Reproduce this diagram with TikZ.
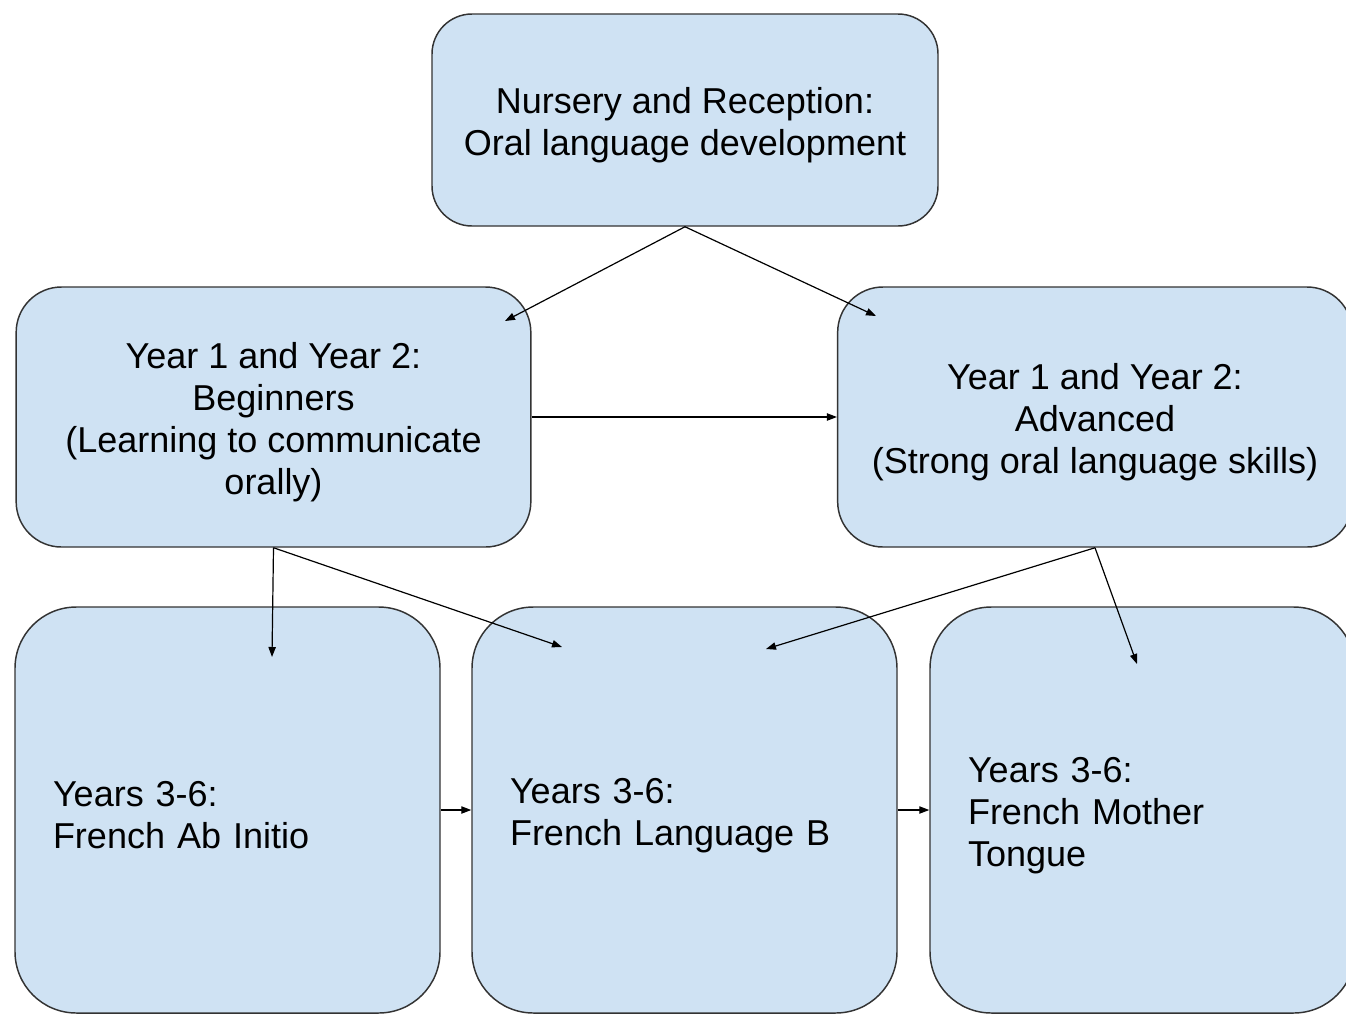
\documentclass[tikz,border=0pt]{standalone}
\usepackage{fontspec}
\setmainfont{Liberation Sans}
\usetikzlibrary{arrows.meta}

\definecolor{stageblue}{HTML}{CFE2F3}
\definecolor{stageline}{HTML}{333333}

% lifts the first line a little, as in the drawing
\newcommand{\stagestrut}{\rule{0pt}{1em}}

\tikzset{every picture/.style={line width=0.75pt}}
\tikzset{
	stage/.style={draw=stageline, fill=stageblue, line width=1.1pt, inner sep=0pt,
		font=\fontsize{27pt}{31.5pt}\selectfont},
	midstage/.style={stage, minimum width=386pt, minimum height=195pt, rounded corners=34pt, align=center},
	lowstage/.style={stage, minimum width=318.75pt, minimum height=304.5pt, rounded corners=46pt,
		text width=261.75pt, align=left},
	link/.style={-{Triangle[length=7.5pt,width=5.5pt]}, line width=0.9pt, draw=black},
}

\begin{document}
\begin{tikzpicture}[x=0.75pt,y=0.75pt,yscale=-1,xscale=1]
	\useasboundingbox (0,0) rectangle (1346,1015);
	\clip (0,0) rectangle (1346,1015);

	% Stage boxes
	\node [stage, minimum width=379.5pt, minimum height=159pt, rounded corners=30pt, align=center] (nursery) at (685,120)
		{\stagestrut Nursery and Reception:\\Oral language development};
	\node [midstage] (beginners) at (273.5,417)
		{\stagestrut Year 1 and Year 2:\\Beginners\\(Learning to communicate\\orally)};
	\node [midstage] (advanced) at (1095,417)
		{\stagestrut Year 1 and Year 2:\\Advanced\\(Strong oral language skills)};
	\node [lowstage] (abinitio) at (227.5,810)
		{\stagestrut Years 3-6:\\French Ab Initio};
	\node [lowstage] (langb) at (684.5,810)
		{\stagestrut Years 3-6:\\French Language B};
	\node [lowstage] (mother) at (1142.5,810)
		{\stagestrut Years 3-6:\\French Mother\\Tongue};

	% Arrow ends inside the boxes
	\coordinate (toBeg) at (505,321);
	\coordinate (toAdv) at (876,316);
	\coordinate (begToAb) at (272,657);
	\coordinate (begToB) at (562,647);
	\coordinate (advToB) at (766,649);
	\coordinate (advToMt) at (1137,664);

	% Connectors
	\draw [link] (nursery.south) -- (toBeg);
	\draw [link] (nursery.south) -- (toAdv);
	\draw [link] (beginners.east) -- (advanced.west);
	\draw [link] (beginners.south) -- (begToAb);
	\draw [link] (beginners.south) -- (begToB);
	\draw [link] (advanced.south) -- (advToB);
	\draw [link] (advanced.south) -- (advToMt);
	\draw [link] (abinitio.east) -- (langb.west);
	\draw [link] (langb.east) -- (mother.west);

\end{tikzpicture}
\end{document}
